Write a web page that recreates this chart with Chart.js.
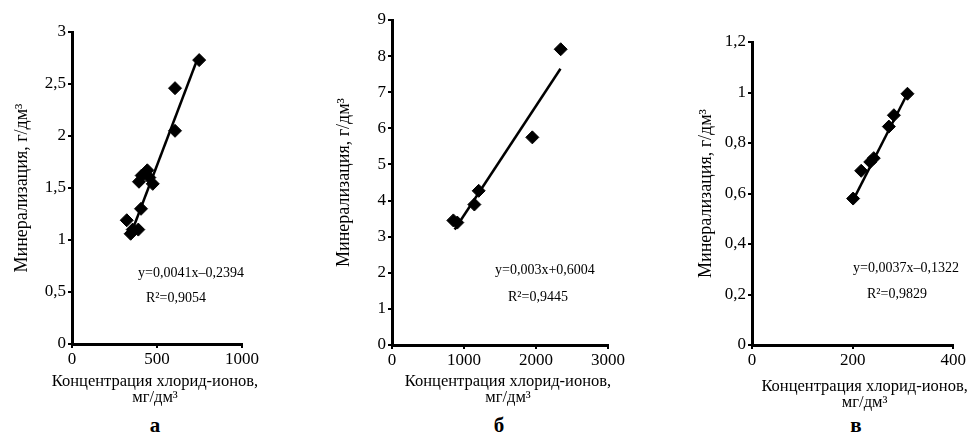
<!DOCTYPE html>
<html>
<head>
<meta charset="utf-8">
<script src="https://cdn.jsdelivr.net/npm/chart.js@4.4.0/dist/chart.umd.min.js"></script>
<style>
  body { margin: 0; background: #fff; width: 967px; height: 439px; position: relative; overflow: hidden; }
  canvas { position: absolute; top: 0; }
  .letter { position: absolute; top: 413px; font: bold 21px "Liberation Serif", serif; transform: translateX(-50%); }
</style>
</head>
<body>
<canvas id="chartA" width="265" height="412" style="left:0px"></canvas>
<canvas id="chartB" width="300" height="412" style="left:330px"></canvas>
<canvas id="chartC" width="277" height="412" style="left:690px"></canvas>
<div class="letter" style="left:155px">а</div>
<div class="letter" style="left:499px">б</div>
<div class="letter" style="left:856px">в</div>
<script>
const xTitle = ['Концентрация хлорид-ионов,', 'мг/дм³'];
const yTitle = 'Минерализация, г/дм³';

// а
const pointsAX = [322, 345, 357, 390, 406, 394, 410, 443, 455, 475, 606, 606, 748];
const pointsAY = [1.19, 1.06, 1.10, 1.10, 1.30, 1.56, 1.62, 1.67, 1.60, 1.54, 2.05, 2.46, 2.73];
const trendAX = [345, 740];
const trendAY = [1.05, 2.75];

// б
const pointsBX = [852, 907, 1144, 1204, 1949, 2343];
const pointsBY = [3.45, 3.39, 3.89, 4.27, 5.75, 8.19];
const trendBX = [870, 2340];
const trendBY = [3.2, 7.65];

// в
const pointsCX = [201, 217, 235, 242, 272, 282, 309];
const pointsCY = [0.58, 0.69, 0.725, 0.74, 0.865, 0.91, 0.995];
const trendCX = [200, 310];
const trendCY = [0.57, 1.0];

const serif = '"Liberation Serif", "Times New Roman", serif';

// equation, R² and the x title (the title is wider than the plot, so it is drawn here)
const panelText = {
  id: 'panelText',
  afterDatasetsDraw(chart, args, opts) {
    const { ctx, chartArea } = chart;
    ctx.save();
    ctx.fillStyle = '#000';
    ctx.textBaseline = 'middle';
    ctx.font = '14px ' + serif;
    ctx.fillText(opts.eq, chartArea.left + opts.dx, chartArea.top + opts.dy);
    ctx.fillText(opts.r2, chartArea.left + opts.dx + opts.rx, chartArea.top + opts.dy + opts.gap);
    ctx.font = '16.5px ' + serif;
    ctx.textAlign = 'center';
    const cx = (chartArea.left + chartArea.right) / 2 + opts.tx;
    ctx.fillText(xTitle[0], cx, chartArea.bottom + opts.ty);
    ctx.fillText(xTitle[1], cx, chartArea.bottom + opts.ty + 16);
    ctx.restore();
  }
};

function toXY(xs, ys) {
  return xs.map((x, i) => ({ x, y: ys[i] }));
}

function makePanel(id, p) {
  const canvas = document.getElementById(id);
  const H = canvas.height;
  return new Chart(canvas, {
    type: 'scatter',
    data: {
      datasets: [
        { type: 'line', data: toXY(p.trendX, p.trendY), borderColor: '#000', borderWidth: 2.5, pointRadius: 0, fill: false },
        { data: toXY(p.px, p.py), pointStyle: 'rectRot', pointRadius: 6.5, backgroundColor: '#000', borderColor: '#000' }
      ]
    },
    plugins: [panelText],
    options: {
      responsive: false,
      animation: false,
      layout: { padding: { top: p.top, right: p.right, left: 0, bottom: 0 } },
      plugins: {
        legend: { display: false },
        tooltip: { enabled: false },
        panelText: p.text
      },
      scales: {
        x: {
          type: 'linear', min: 0, max: p.xMax,
          afterFit: s => { s.height = H - p.bottom; },
          ticks: { stepSize: p.xStep, color: '#000', font: { family: serif, size: 17 }, padding: 1, maxRotation: 0,
                   callback: v => String(v) },
          grid: { drawOnChartArea: false, tickLength: 4, color: '#000', lineWidth: 2 },
          border: { color: '#000', width: 3 },
          title: { display: false }
        },
        y: {
          type: 'linear', min: 0, max: p.yMax,
          afterFit: s => { s.width = p.left; },
          ticks: { stepSize: p.yStep, color: '#000', font: { family: serif, size: 17 }, padding: 2,
                   callback: v => String(Number(v.toFixed(2))).replace('.', ',') },
          grid: { drawOnChartArea: false, tickLength: 4, color: '#000', lineWidth: 2 },
          border: { color: '#000', width: 3 },
          title: { display: true, text: yTitle, color: '#000', font: { family: serif, size: 18 }, padding: { top: p.ytPad } }
        }
      }
    }
  });
}

makePanel('chartA', {
  px: pointsAX, py: pointsAY, trendX: trendAX, trendY: trendAY,
  xMax: 1000, xStep: 500, yMax: 3, yStep: 0.5,
  left: 72, top: 32, right: 23, bottom: 344, ytPad: 11,
  text: { eq: 'y=0,0041x–0,2394', r2: 'R²=0,9054', dx: 66, dy: 241, rx: 8, gap: 25, tx: -2, ty: 38 }
});

makePanel('chartB', {
  px: pointsBX, py: pointsBY, trendX: trendBX, trendY: trendBY,
  xMax: 3000, xStep: 1000, yMax: 9, yStep: 1,
  left: 62, top: 20, right: 22, bottom: 345, ytPad: 3,
  text: { eq: 'y=0,003x+0,6004', r2: 'R²=0,9445', dx: 103, dy: 250, rx: 13, gap: 27, tx: 8, ty: 37 }
});

makePanel('chartC', {
  px: pointsCX, py: pointsCY, trendX: trendCX, trendY: trendCY,
  xMax: 400, xStep: 200, yMax: 1.2, yStep: 0.2,
  left: 62, top: 42, right: 12, bottom: 345, ytPad: 5,
  text: { eq: 'y=0,0037x–0,1322', r2: 'R²=0,9829', dx: 101, dy: 226, rx: 14, gap: 26, tx: 12, ty: 42 }
});
</script>
</body>
</html>
